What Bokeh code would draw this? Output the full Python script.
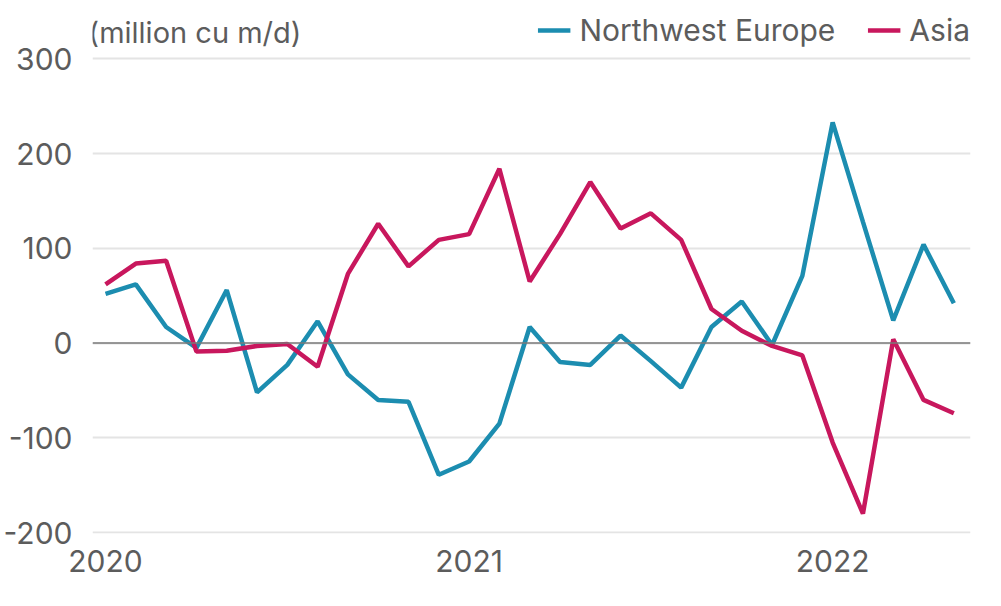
from bokeh.plotting import figure
from bokeh.models import Range1d, FixedTicker, Legend, LegendItem, Label, Span
from bokeh.embed import file_html
from bokeh.resources import INLINE

# Monthly values, Jan 2020 - May 2022 (million cu m/d)
northwest_europe = [52, 62, 17, -5, 56, -52, -23, 23, -33, -60, -62, -139, -125,
                    -85, 17, -20, -23, 8, -19, -47, 17, 44, -2, 71, 233, 128, 24, 104, 42]
asia = [62, 84, 87, -9, -8, -3, -1, -25, 73, 126, 81, 109, 115, 184, 65, 115,
        170, 121, 137, 109, 36, 13, -3, -13, -105, -180, 4, -60, -74]
months = list(range(len(asia)))
year_ticks = [0, 12, 24]
year_labels = ["2020", "2021", "2022"]
y_ticks = [-200, -100, 0, 100, 200, 300]
y_labels = ["-200", "-100", "0", "100", "200", "300"]
unit_text = "(million cu m/d)"

FONT = "Inter"
TXT = "#5c5c5c"
NWE_COLOR = "#1c8db0"
ASIA_COLOR = "#c8175d"

p = figure(width=993, height=600, output_backend="svg", toolbar_location=None,
           x_range=Range1d(-0.43, 28.55), y_range=Range1d(-201, 349),
           min_border_left=92, min_border_right=23, min_border_top=12,
           min_border_bottom=67)
p.outline_line_color = None
p.background_fill_color = "white"
p.border_fill_color = "white"

p.xaxis.ticker = FixedTicker(ticks=year_ticks)
p.xaxis.major_label_overrides = {t: l for t, l in zip(year_ticks, year_labels)}
p.yaxis.ticker = FixedTicker(ticks=y_ticks)
p.yaxis.major_label_overrides = {t: l for t, l in zip(y_ticks, y_labels)}
for ax in (p.xaxis, p.yaxis):
    ax.axis_line_color = None
    ax.major_tick_line_color = None
    ax.minor_tick_line_color = None
    ax.major_label_text_font = FONT
    ax.major_label_text_font_size = "30px"
    ax.major_label_text_color = TXT
p.yaxis.major_label_standoff = 14
p.xaxis.major_label_standoff = 10

p.xgrid.visible = False
p.ygrid.grid_line_color = "#e4e4e4"
p.ygrid.grid_line_width = 2

p.add_layout(Span(location=0, dimension="width", line_color="#7a7a7a", line_width=1.5))

r_nwe = p.line(months, northwest_europe, line_color=NWE_COLOR, line_width=4.5)
r_asia = p.line(months, asia, line_color=ASIA_COLOR, line_width=4.5)

legend = Legend(items=[LegendItem(label="Northwest Europe", renderers=[r_nwe]),
                       LegendItem(label="Asia", renderers=[r_asia])],
                location="top_right", orientation="horizontal",
                background_fill_alpha=0, border_line_color=None,
                label_text_font=FONT, label_text_font_size="30px",
                label_text_color=TXT, glyph_width=33, label_standoff=9,
                spacing=32, padding=0, margin=0)
p.add_layout(legend)

p.add_layout(Label(x=-0.56, y=328, text=unit_text, text_font=FONT,
                   text_font_size="29px", text_baseline="middle", text_color=TXT))

open("out.html", "w").write(file_html(p, INLINE))
